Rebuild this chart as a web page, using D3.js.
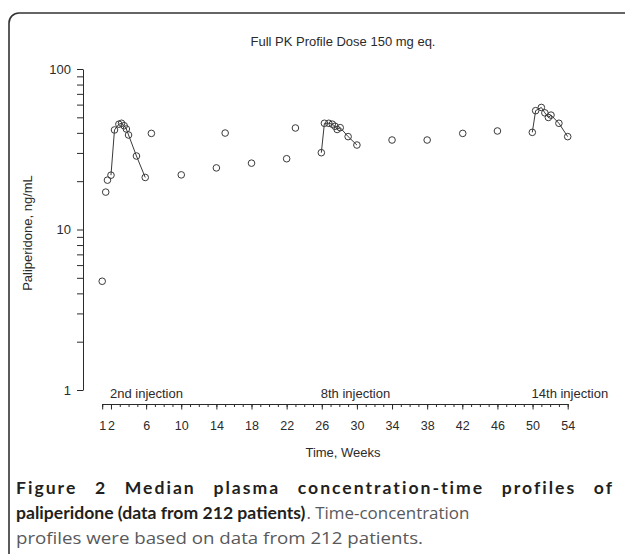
<!DOCTYPE html>
<html>
<head>
<meta charset="utf-8">
<script src="https://cdn.jsdelivr.net/npm/d3@7"></script>
<style>
  html, body { margin: 0; padding: 0; background: #fff; }
  svg { display: block; }
</style>
</head>
<body>
<svg id="chart" width="625" height="554"></svg>
<script>
// ---- data ----
const chartTitle = "Full PK Profile Dose 150 mg eq.";
const xTitle = "Time, Weeks";
const yTitle = "Paliperidone, ng/mL";

// isolated (trough / single) samples
const singleWeeks = [1.0, 1.4, 1.6, 6.6, 10, 14, 15, 18, 22, 23, 34, 38, 42.05, 46];
const singleConc  = [4.76, 17.1, 20.3, 39.7, 21.9, 24.2, 39.9, 25.9, 27.6, 42.9, 36.1, 36.1, 39.7, 41.1];

// full profile after 2nd injection
const profile2Weeks = [2.0, 2.4, 2.9, 3.2, 3.5, 3.75, 4.0, 4.9, 5.9];
const profile2Conc  = [21.8, 41.7, 45.3, 45.9, 44.3, 42.3, 38.8, 28.7, 21.1];

// full profile after 8th injection
const profile8Weeks = [25.95, 26.3, 26.8, 27.2, 27.5, 27.75, 28.1, 29.0, 30.0];
const profile8Conc  = [30.1, 45.9, 45.9, 45.3, 44.0, 42.0, 43.1, 37.9, 33.6];

// full profile after 14th injection
const profile14Weeks = [49.97, 50.35, 51.0, 51.4, 51.8, 52.1, 53.0, 54.0];
const profile14Conc  = [40.3, 55.0, 57.6, 53.3, 49.9, 51.6, 45.9, 37.9];

const injectionLabels = ["2nd injection", "8th injection", "14th injection"];
const injectionWeeks  = [2, 26, 50];

const yMajorTicks = [1, 10, 100];
const yMinorTicks = [2, 3, 4, 5, 6, 7, 8, 9, 20, 30, 40, 50, 60, 70, 80, 90];
const xLabelTicks = [1, 2, 6, 10, 14, 18, 22, 26, 30, 34, 38, 42, 46, 50, 54];
const xMinorTicks = d3.range(1, 55);

const captionBold1 = "Figure 2 Median plasma concentration-time profiles of";
const captionBold2 = "paliperidone (data from 212 patients)";
const captionNorm2 = ". Time-concentration";
const captionNorm3 = "profiles were based on data from 212 patients.";

// ---- drawing ----
const svg = d3.select("#chart");
const chartFont = "'Liberation Sans', Arial, Helvetica, sans-serif";
const boldFont = "Lato, 'Open Sans', sans-serif";
const normFont = "'Open Sans', 'Noto Sans', sans-serif";
const ink = "#2b2b2b";

// frame
svg.append("rect")
  .attr("x", 9).attr("y", 13)
  .attr("width", 640).attr("height", 580)
  .attr("rx", 10).attr("ry", 10)
  .attr("fill", "none").attr("stroke", "#333").attr("stroke-width", 1.6);

const x = d3.scaleLinear().domain([1, 54]).range([102.2, 567.7]);
const y = d3.scaleLog().domain([1, 100]).range([390, 69]);

// title
svg.append("text")
  .attr("x", 343).attr("y", 46)
  .attr("text-anchor", "middle")
  .attr("font-family", chartFont).attr("font-size", 13).attr("fill", ink)
  .text(chartTitle);

// y axis
const yAxisG = svg.append("g").attr("transform", "translate(83,0)");
yAxisG.call(d3.axisLeft(y).tickValues(yMajorTicks.concat(yMinorTicks))
  .tickSize(6).tickSizeOuter(0).tickPadding(6)
  .tickFormat(d => yMajorTicks.includes(d) ? d3.format("d")(d) : ""));
yAxisG.selectAll("text").attr("font-family", chartFont).attr("font-size", 13).attr("fill", ink);
yAxisG.selectAll("line, path").attr("stroke", ink).attr("stroke-width", 1);

svg.append("text")
  .attr("transform", "translate(32,233) rotate(-90)")
  .attr("text-anchor", "middle")
  .attr("font-family", chartFont).attr("font-size", 13).attr("fill", ink)
  .text(yTitle);

// x axis: minor ticks
const xAxisMinor = svg.append("g").attr("transform", "translate(0,404)");
xAxisMinor.call(d3.axisBottom(x).tickValues(xMinorTicks).tickSize(3).tickSizeOuter(0).tickFormat(""));
xAxisMinor.selectAll("line, path").attr("stroke", ink).attr("stroke-width", 1);

// x axis: labelled ticks
const xAxisMajor = svg.append("g").attr("transform", "translate(0,404)");
xAxisMajor.call(d3.axisBottom(x).tickValues(xLabelTicks).tickSize(5.5).tickSizeOuter(0).tickPadding(12).tickFormat(d3.format("d")));
xAxisMajor.select("path").remove();
xAxisMajor.selectAll("line").attr("stroke", ink).attr("stroke-width", 1);
xAxisMajor.selectAll("text").attr("font-family", chartFont).attr("font-size", 12.5).attr("fill", ink);

svg.append("text")
  .attr("x", 343).attr("y", 457)
  .attr("text-anchor", "middle")
  .attr("font-family", chartFont).attr("font-size", 13).attr("fill", ink)
  .text(xTitle);

// injection labels
svg.selectAll("text.inj").data(injectionLabels).enter().append("text")
  .attr("class", "inj")
  .attr("x", (d, i) => x(injectionWeeks[i]) - 1)
  .attr("y", 397.5)
  .attr("font-family", chartFont).attr("font-size", 13).attr("fill", ink)
  .text(d => d);

// profiles (lines + circles)
const profiles = [
  [profile2Weeks, profile2Conc],
  [profile8Weeks, profile8Conc],
  [profile14Weeks, profile14Conc]
];
const line = d3.line().x(d => x(d[0])).y(d => y(d[1]));
const dotColor = "#3a3a3a";
profiles.forEach(([w, c]) => {
  const pts = w.map((v, i) => [v, c[i]]);
  svg.append("path").datum(pts).attr("d", line)
    .attr("fill", "none").attr("stroke", dotColor).attr("stroke-width", 1);
  svg.append("g").selectAll("circle").data(pts).enter().append("circle")
    .attr("cx", d => x(d[0])).attr("cy", d => y(d[1])).attr("r", 3.3)
    .attr("fill", "none").attr("stroke", dotColor).attr("stroke-width", 1);
});
const singles = singleWeeks.map((v, i) => [v, singleConc[i]]);
svg.append("g").selectAll("circle").data(singles).enter().append("circle")
  .attr("cx", d => x(d[0])).attr("cy", d => y(d[1])).attr("r", 3.3)
  .attr("fill", "none").attr("stroke", dotColor).attr("stroke-width", 1);

// caption
const boldInk = "#231f20";
const normInk = "#58595b";
const boldSize = 17.6;
// line 1: bold, justified across the column via letter and word spacing
const l1 = svg.append("text")
  .attr("x", 16).attr("y", 494)
  .attr("font-family", boldFont).attr("font-weight", 700).attr("font-size", boldSize)
  .attr("fill", boldInk).attr("letter-spacing", 2)
  .text(captionBold1);
const w1 = l1.node().getComputedTextLength();
const gaps1 = captionBold1.split(" ").length - 1;
l1.attr("word-spacing", Math.max(0, (598 - w1) / gaps1));

// line 2: bold part then regular part
const l2 = svg.append("text")
  .attr("x", 16).attr("y", 519)
  .attr("font-family", boldFont).attr("font-weight", 700).attr("font-size", boldSize)
  .attr("fill", boldInk)
  .text(captionBold2);
const w2 = l2.node().getComputedTextLength();
svg.append("text")
  .attr("x", 16 + w2 + 1).attr("y", 519)
  .attr("font-family", normFont).attr("font-size", 16.5)
  .attr("fill", normInk)
  .attr("textLength", 163).attr("lengthAdjust", "spacingAndGlyphs")
  .text(captionNorm2);

// line 3
svg.append("text")
  .attr("x", 16).attr("y", 544)
  .attr("font-family", normFont).attr("font-size", 16.5).attr("fill", normInk)
  .attr("textLength", 407).attr("lengthAdjust", "spacingAndGlyphs")
  .text(captionNorm3);
</script>
</body>
</html>
